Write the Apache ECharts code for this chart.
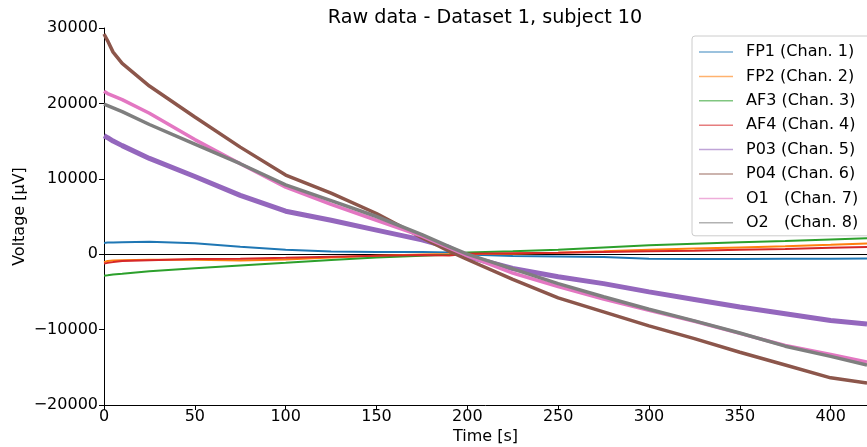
<!DOCTYPE html>
<html>
<head>
<meta charset="utf-8">
<script src="https://cdn.jsdelivr.net/npm/echarts@6/dist/echarts.min.js"></script>
<style>
html,body{margin:0;padding:0;background:#fff;}
#c{width:867px;height:447px;}
</style>
</head>
<body>
<div id="c"></div>
<script>
// ---- data ----
var chartTitle = 'Raw data - Dataset 1, subject 10';
var xName = 'Time [s]';
var yName = 'Voltage [\u03bcV]';
var xTicks = [0, 50, 100, 150, 200, 250, 300, 350, 400];
var yTicks = [-20000, -10000, 0, 10000, 20000, 30000];
var time = [0, 2, 5, 10, 25, 50, 75, 100, 125, 150, 175, 190, 200, 225, 250, 275, 300, 325, 350, 375, 400, 420];
var seriesNames = ['FP1 (Chan. 1)', 'FP2 (Chan. 2)', 'AF3 (Chan. 3)', 'AF4 (Chan. 4)', 'P03 (Chan. 5)', 'P04 (Chan. 6)', 'O1   (Chan. 7)', 'O2   (Chan. 8)'];
var fp1 = [1500, 1550, 1550, 1600, 1650, 1450, 1000, 600, 350, 300, 280, 240, -50, -250, -300, -380, -600, -650, -640, -600, -600, -570];
var fp2 = [-1050, -900, -850, -800, -750, -730, -850, -700, -450, -200, -50, 20, 100, 50, 200, 380, 600, 750, 900, 1050, 1250, 1430];
var af3 = [-2850, -2800, -2700, -2600, -2250, -1850, -1500, -1150, -780, -450, -200, -70, 220, 400, 600, 900, 1200, 1400, 1580, 1750, 1950, 2100];
var af4 = [-1250, -1150, -1050, -900, -800, -650, -600, -470, -330, -200, -120, -170, 50, 130, 200, 290, 380, 450, 600, 700, 850, 950];
var p03 = [15700, 15450, 15000, 14400, 12700, 10300, 7800, 5700, 4500, 3200, 1900, 900, -300, -1900, -3000, -3900, -5000, -6000, -7000, -7900, -8800, -9250];
var p04 = [29200, 28300, 26800, 25300, 22300, 18200, 14200, 10500, 8100, 5400, 2200, 400, -700, -3350, -5800, -7650, -9500, -11200, -13000, -14700, -16400, -17100];
var o1 = [21600, 21300, 21000, 20500, 18700, 15200, 12000, 8900, 6600, 4500, 2400, 850, -200, -2500, -4300, -5950, -7450, -8900, -10500, -12100, -13300, -14300];
var o2 = [19900, 19700, 19400, 18900, 17200, 14600, 12000, 9200, 7100, 5000, 2600, 1000, 0, -1950, -3900, -5650, -7300, -8850, -10450, -12200, -13550, -14700];
var allValues = [fp1, fp2, af3, af4, p03, p04, o1, o2];

// ---- styles ----
var colors = ['#1f77b4', '#ff7f0e', '#2ca02c', '#d62728', '#9467bd', '#8c564b', '#e377c2', '#7f7f7f'];
var widths = [2, 2, 2, 2, 5, 3.5, 3.5, 3.5];
var FONT = 'DejaVu Sans';

function fmt(v) { return String(v).replace('-', '\u2212'); }

var series = allValues.map(function (vals, i) {
  return {
    name: seriesNames[i],
    type: 'line',
    showSymbol: false,
    symbol: 'none',
    data: time.map(function (t, j) { return [t, vals[j]]; }),
    lineStyle: { color: colors[i], width: widths[i] },
    itemStyle: { color: colors[i] },
    emphasis: { disabled: true },
    animation: false
  };
});

var chart = echarts.init(document.getElementById('c'), null, { renderer: 'canvas' });
chart.setOption({
  animation: false,
  backgroundColor: '#ffffff',
  textStyle: { fontFamily: FONT },
  title: {
    text: chartTitle,
    left: 485,
    textAlign: 'center',
    top: 9,
    padding: 0,
    textStyle: { fontFamily: FONT, fontSize: 19.2, fontWeight: 'normal', color: '#000' }
  },
  grid: { left: 104, right: 0, top: 28, bottom: 42, containLabel: false, outerBoundsMode: 'none' },
  legend: {
    orient: 'vertical',
    left: 692,
    top: 36,
    padding: [8, 30, 5, 7],
    icon: 'rect',
    itemWidth: 34,
    itemHeight: 1.5,
    itemGap: 8.4,
    backgroundColor: 'rgba(255,255,255,0.8)',
    borderColor: '#cccccc',
    borderWidth: 1,
    borderRadius: 3,
    itemStyle: { opacity: 0.6 },
    textStyle: { fontFamily: FONT, fontSize: 16, color: '#000', lineHeight: 16, padding: [0, 0, 0, 8] },
    data: seriesNames
  },
  xAxis: [{
    type: 'value',
    min: 0,
    max: 420,
    interval: 50,
    name: xName,
    nameLocation: 'middle',
    nameGap: 24,
    nameMoveOverlap: false,
    nameTextStyle: { fontFamily: FONT, fontSize: 16, color: '#000' },
    axisLine: { show: true, onZero: false, lineStyle: { color: '#000', width: 1 } },
    axisTick: { show: true, inside: false, length: 5, lineStyle: { color: '#000' }, customValues: xTicks },
    axisLabel: { fontFamily: FONT, fontSize: 16, color: '#000', margin: 4, customValues: xTicks, formatter: fmt },
    splitLine: { show: false }
  }, {
    type: 'value',
    position: 'top',
    min: 0,
    max: 420,
    axisLine: { show: true, lineStyle: { color: '#000', width: 1 } },
    axisTick: { show: false },
    axisLabel: { show: false },
    splitLine: { show: false }
  }],
  yAxis: {
    type: 'value',
    min: -20000,
    max: 30000,
    interval: 10000,
    name: yName,
    nameLocation: 'middle',
    nameGap: 76,
    nameMoveOverlap: false,
    nameTextStyle: { fontFamily: FONT, fontSize: 16, color: '#000' },
    axisLine: { show: true, onZero: false, lineStyle: { color: '#000', width: 1 } },
    axisTick: { show: true, inside: false, length: 5, lineStyle: { color: '#000' }, customValues: yTicks },
    axisLabel: { fontFamily: FONT, fontSize: 16, color: '#000', margin: 6, customValues: yTicks, formatter: fmt },
    splitLine: { show: false }
  },
  series: series
});
</script>
</body>
</html>
